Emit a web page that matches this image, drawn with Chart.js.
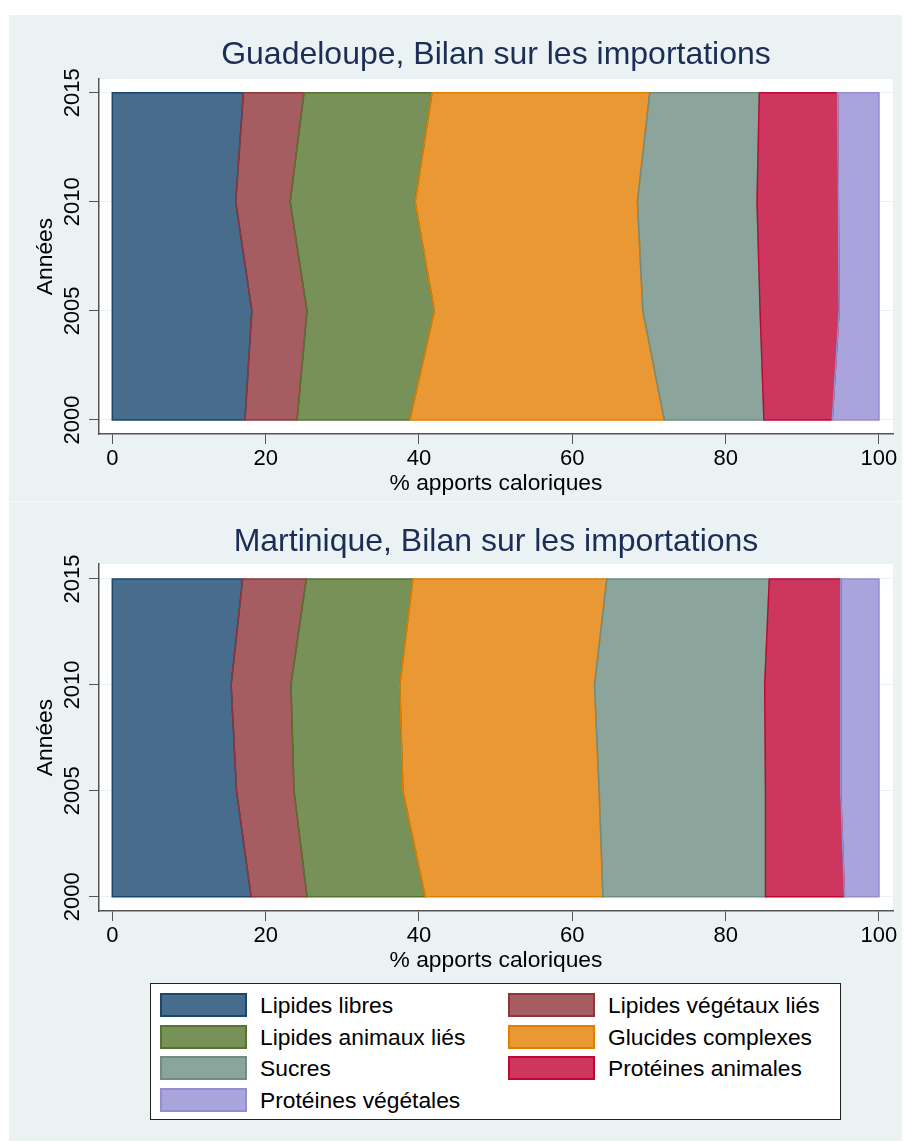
<!DOCTYPE html>
<html>
<head>
<meta charset="utf-8">
<script src="https://cdn.jsdelivr.net/npm/chart.js@4"></script>
<style>
  body { margin: 0; background: #fff; width: 911px; height: 1142px; position: relative; overflow: hidden;
         font-family: 'Liberation Sans', Arial, Helvetica, sans-serif; }
  #panel { position: absolute; left: 9px; top: 15px; width: 893px; height: 1126px; background: #eaf2f3; }
  #sep { position: absolute; left: 9px; top: 501px; width: 893px; height: 1px; background: #f5f9f9; }
  canvas { position: absolute; left: 9px; }
  #legend { position: absolute; left: 150px; top: 983px; width: 689px; height: 135px; background: #fff;
            border: 1px solid #222; }
  .item { position: absolute; height: 24px; }
  .sw { position: absolute; left: 0; top: 0; width: 87px; height: 24px; box-sizing: border-box; border: 2px solid; }
  .lbl { position: absolute; left: 100px; top: -1px; font-size: 22.8px; line-height: 26px; color: #000; white-space: nowrap; }
</style>
</head>
<body>
<div id="panel"></div>
<div id="sep"></div>
<canvas id="chartGuadeloupe" width="893" height="486" style="top:15px"></canvas>
<canvas id="chartMartinique" width="893" height="476" style="top:502px"></canvas>
<div id="legend"></div>
<script>
// Données (parts en % des apports caloriques)
const years = [2000, 2005, 2010, 2015]
const categories = [
	'Lipides libres',
	'Lipides végétaux liés',
	'Lipides animaux liés',
	'Glucides complexes',
	'Sucres',
	'Protéines animales',
	'Protéines végétales',
]
const guadeloupeValues = [
	[17.3, 18.2, 16.1, 17.1],
	[6.8, 7.2, 7.1, 7.9],
	[14.7, 16.6, 16.3, 16.7],
	[33.2, 27.2, 29.0, 28.4],
	[13.0, 15.3, 15.6, 14.3],
	[8.9, 10.3, 10.6, 10.2],
	[6.1, 5.2, 5.3, 5.4],
]
const martiniqueValues = [
	[18.1, 16.2, 15.5, 17.0],
	[7.3, 7.5, 7.8, 8.3],
	[15.4, 14.2, 14.2, 13.9],
	[23.2, 25.6, 25.4, 25.3],
	[21.2, 21.7, 22.2, 21.2],
	[10.3, 9.8, 9.9, 9.3],
	[4.5, 5.0, 5.0, 5.0],
]
const xTicks = [0, 20, 40, 60, 80, 100]

// Couleurs (contour / remplissage)
const lineColors = ['#1a476f', '#90353b', '#55752f', '#e37e00', '#6e8e84', '#c10534', '#938dd2']
const fillColors = ['#486c8c', '#a65d62', '#779159', '#e99833', '#8ba59d', '#cd375d', '#a9a4db']

const FONT = "'Liberation Sans', Arial, Helvetica, sans-serif"
Chart.defaults.font.family = FONT
Chart.defaults.color = '#000'

// fond blanc de la zone de tracé
const plotBg = {
	id: 'plotBg',
	beforeDraw(chart) {
		const { ctx, chartArea: a } = chart
		ctx.save()
		ctx.fillStyle = '#fff'
		ctx.fillRect(a.left, a.top, a.right - a.left, a.bottom - a.top)
		ctx.restore()
	},
}

// contours des aires, dessinés dans l'ordre des séries
const outlines = {
	id: 'outlines',
	afterDatasetsDraw(chart) {
		const { ctx } = chart
		const x0 = chart.scales.x.getPixelForValue(0)
		ctx.save()
		ctx.lineWidth = 1.5
		chart.data.datasets.forEach((ds, i) => {
			const pts = chart.getDatasetMeta(i).data
			const prev = i > 0 ? chart.getDatasetMeta(i - 1).data : pts.map(p => ({ x: x0, y: p.y }))
			ctx.beginPath()
			pts.forEach((p, k) => (k ? ctx.lineTo(p.x, p.y) : ctx.moveTo(p.x, p.y)))
			for (let k = prev.length - 1; k >= 0; k--) ctx.lineTo(prev[k].x, prev[k].y)
			ctx.closePath()
			ctx.strokeStyle = ds.borderColor
			ctx.stroke()
		})
		ctx.restore()
	},
}

function makeChart(id, title, values, yMin, yMax, titlePad) {
	return new Chart(document.getElementById(id).getContext('2d'), {
		type: 'line',
		data: {
			datasets: categories.map((name, i) => ({
				label: name,
				data: years.map((y, k) => ({ x: values[i][k], y })),
				backgroundColor: fillColors[i],
				borderColor: lineColors[i],
				borderWidth: 0,
				pointRadius: 0,
				tension: 0,
				fill: i === 0 ? 'origin' : '-1',
			})),
		},
		options: {
			indexAxis: 'y',
			responsive: false,
			animation: false,
			events: [],
			layout: { padding: { left: 0, right: 9, top: 0, bottom: 0 } },
			scales: {
				x: {
					type: 'linear',
					stacked: true,
					min: -1.735,
					max: 101.83,
					afterBuildTicks: s => { s.ticks = xTicks.map(v => ({ value: v })) },
					afterFit: s => { s.height = 67 },
					grid: { drawOnChartArea: false, tickColor: '#555', tickLength: 10 },
					border: { color: '#555', width: 1.5 },
					ticks: { font: { size: 22 }, padding: 2, color: '#000', maxRotation: 0 },
					title: { display: true, text: '% apports caloriques', font: { size: 22.8 }, color: '#000', padding: { top: 0, bottom: 3.2 } },
				},
				y: {
					type: 'linear',
					min: yMin,
					max: yMax,
					afterBuildTicks: s => { s.ticks = years.map(v => ({ value: v })) },
					afterFit: s => { s.width = 90 },
					grid: { color: '#eaf2f3', tickColor: '#555', tickLength: 10 },
					border: { color: '#555', width: 1.5 },
					ticks: {
						font: { size: 22 },
						color: '#000',
						minRotation: 90,
						maxRotation: 90,
						crossAlign: 'center',
						padding: -8,
						callback: v => String(v),
					},
					title: { display: true, text: 'Années', font: { size: 22.8 }, color: '#000', padding: { top: 23, bottom: 0 } },
				},
			},
			plugins: {
				legend: { display: false },
				tooltip: { enabled: false },
				title: {
					display: true,
					text: title,
					fullSize: false,
					color: '#1c2d56',
					font: { size: 32, weight: 'normal', lineHeight: 1.2 },
					padding: titlePad,
				},
			},
		},
		plugins: [plotBg, outlines],
	})
}

makeChart('chartGuadeloupe', 'Guadeloupe, Bilan sur les importations', guadeloupeValues, 1999.358, 2015.628, { top: 20.8, bottom: 4.8 })
makeChart('chartMartinique', 'Martinique, Bilan sur les importations', martiniqueValues, 1999.325, 2015.708, { top: 21, bottom: 2.6 })

// Légende
const legend = document.getElementById('legend')
categories.forEach((name, i) => {
	const item = document.createElement('div')
	item.className = 'item'
	item.style.left = (9 + (i % 2) * 348) + 'px'
	item.style.top = (9 + Math.floor(i / 2) * 31.7) + 'px'
	const sw = document.createElement('div')
	sw.className = 'sw'
	sw.style.background = fillColors[i]
	sw.style.borderColor = lineColors[i]
	const lbl = document.createElement('div')
	lbl.className = 'lbl'
	lbl.textContent = name
	item.appendChild(sw)
	item.appendChild(lbl)
	legend.appendChild(item)
})
</script>
</body>
</html>
